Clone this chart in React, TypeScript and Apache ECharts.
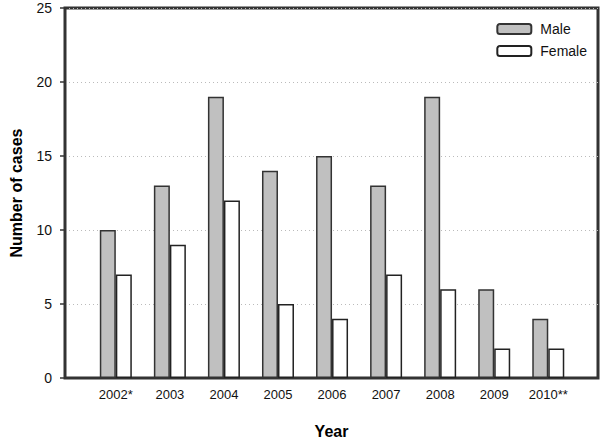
import React, { useEffect, useRef } from "react";
import * as echarts from "echarts";

const years = ["2002*", "2003", "2004", "2005", "2006", "2007", "2008", "2009", "2010**"];
const male = [10, 13, 19, 14, 15, 13, 19, 6, 4];
const female = [7, 9, 12, 5, 4, 7, 6, 2, 2];
const yTicks = [0, 5, 10, 15, 20, 25];

const FONT = "'Liberation Sans', Arial, Helvetica, sans-serif";
const LINE = "#333";
const X_MIN = -0.94;
const X_MAX = 8.92;
const Y_MIN = 0;
const Y_MAX = 25;

export default function App() {
  const ref = useRef<HTMLDivElement>(null);
  useEffect(() => {
    if (!ref.current) return;
    const chart = echarts.init(ref.current, null, { renderer: "svg", width: 600, height: 444 });
    const idx = years.map((_, i) => i);
    chart.setOption({
      animation: false,
      backgroundColor: "#ffffff",
      textStyle: { fontFamily: FONT },
      grid: {
        left: 62,
        right: 2,
        top: 8,
        bottom: 59,
        show: true,
        borderColor: "#333333",
        borderWidth: 3,
        backgroundColor: "rgba(0,0,0,0)",
      },
      legend: {
        orient: "vertical",
        right: 8,
        top: 17,
        itemWidth: 34,
        itemHeight: 10,
        itemGap: 8,
        textStyle: { fontFamily: FONT, fontSize: 14, color: "#111", padding: [0, 0, 0, 4] },
        data: ["Male", "Female"],
      },
      xAxis: {
        type: "value",
        min: X_MIN,
        max: X_MAX,
        name: "Year",
        nameLocation: "middle",
        nameGap: 45,
        nameTextStyle: { fontFamily: FONT, fontSize: 16, fontWeight: "bold", color: "#000" },
        axisLine: { show: true, onZero: false, lineStyle: { color: LINE, width: 2 } },
        axisTick: { show: false },
        splitLine: { show: false },
        axisLabel: {
          customValues: idx,
          formatter: (v: number) => years[Math.round(v)] ?? "",
          fontFamily: FONT,
          fontSize: 13,
          color: "#111",
          margin: 10,
        },
      },
      yAxis: {
        type: "value",
        min: Y_MIN,
        max: Y_MAX,
        interval: 5,
        name: "Number of cases",
        nameLocation: "middle",
        nameGap: 41,
        nameTextStyle: { fontFamily: FONT, fontSize: 16, fontWeight: "bold", color: "#000" },
        axisLine: { show: true, onZero: false, lineStyle: { color: LINE, width: 2 } },
        axisTick: { show: true, length: 5, lineStyle: { color: LINE, width: 1.5 } },
        axisLabel: {
          fontFamily: FONT,
          fontSize: 14,
          color: "#111",
          margin: 13,
          formatter: (v: number) => (yTicks.includes(v) ? String(v) : ""),
        },
        splitLine: { show: true, lineStyle: { color: "#bbb", type: [1, 3], width: 1 } },
      },
      series: [
        {
          name: "Male",
          type: "bar",
          barWidth: 16,
          barGap: "0%",
          data: male.map((v, i) => [i, v]),
          itemStyle: { color: "#c0c0c0", borderColor: LINE, borderWidth: 1.5 },
        },
        {
          name: "Female",
          type: "bar",
          barWidth: 16,
          barGap: "0%",
          data: female.map((v, i) => [i, v]),
          itemStyle: { color: "#ffffff", borderColor: "#222", borderWidth: 1.5 },
        },
      ],
    });
    return () => chart.dispose();
  }, []);
  return (
    <div
      ref={ref}
      style={{ position: "absolute", left: 0, top: 0, width: 600, height: 444, background: "#fff" }}
    />
  );
}
